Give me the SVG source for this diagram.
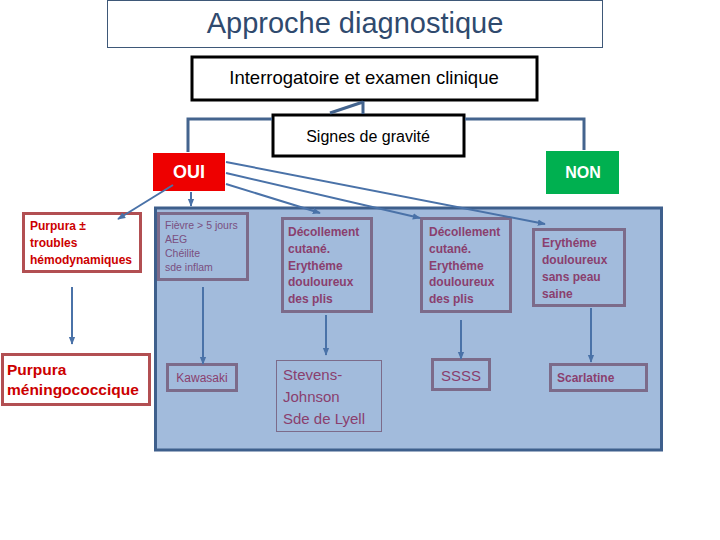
<svg xmlns="http://www.w3.org/2000/svg" width="720" height="540" viewBox="0 0 720 540">
<defs>
<marker id="ah" viewBox="0 0 10 10" refX="9" refY="5" markerWidth="4" markerHeight="4" orient="auto" markerUnits="strokeWidth">
<path d="M0,1 L10,5 L0,9 z" fill="#4a72a8"/>
</marker>
<style>
text{font-family:"Liberation Sans",Arial,sans-serif}
.tree{fill:none;stroke:#44648e;stroke-width:3}
.arr{fill:none;stroke:#4a72a8;stroke-width:2;marker-end:url(#ah)}
.pbox{fill:none;stroke:#7c6b8a;stroke-width:3}
.rbox{fill:#fff;stroke:#b24f52;stroke-width:3}
.pt{fill:#8a3f6e;font-size:12px;font-weight:bold}
.rt{fill:#cc0000;font-weight:bold}
</style>
</defs>
<rect width="720" height="540" fill="#fff"/>
<g id="title">
<rect x="107.5" y="0.5" width="495" height="47" fill="#fff" stroke="#3e5878" stroke-width="1"/>
<text x="355" y="33" font-size="29" fill="#2f4a6e" text-anchor="middle">Approche diagnostique</text>
</g>
<g id="panel">
<rect x="155.5" y="208" width="506" height="242" fill="#a2bbdc" stroke="#3e5f8c" stroke-width="3"/>
</g>
<g id="interrogatoire">
<rect x="192" y="57" width="345" height="43" fill="#fff" stroke="#000" stroke-width="3"/>
<text x="364" y="84" font-size="18.5" fill="#000" text-anchor="middle">Interrogatoire et examen clinique</text>
</g>
<g id="signes">
<rect x="273" y="115" width="191" height="41" fill="#fff" stroke="#000" stroke-width="3"/>
<text x="368" y="142" font-size="16" fill="#000" text-anchor="middle">Signes de gravité</text>
</g>
<g id="oui">
<rect x="153" y="153" width="72" height="38" fill="#ee0000"/>
<text x="189" y="178" font-size="18" font-weight="bold" fill="#fff" text-anchor="middle">OUI</text>
</g>
<g id="non">
<rect x="546" y="151" width="73" height="43" fill="#00b050"/>
<text x="583" y="178" font-size="16" font-weight="bold" fill="#fff" text-anchor="middle">NON</text>
</g>
<g id="purpura-troubles">
<rect class="rbox" x="23.5" y="213.5" width="117" height="58"/>
<text class="rt" font-size="12"><tspan x="30" y="230">Purpura ±</tspan><tspan x="30" y="247">troubles</tspan><tspan x="30" y="264">hémodynamiques</tspan></text>
</g>
<g id="purpura-meningo">
<rect class="rbox" x="2.5" y="354.5" width="147" height="50"/>
<text class="rt" font-size="15.5"><tspan x="7" y="375">Purpura</tspan><tspan x="7" y="395">méningococcique</tspan></text>
</g>
<g id="fievre">
<rect class="pbox" x="158.5" y="213.5" width="89" height="66"/>
<text fill="#7a4f80" font-size="10.5"><tspan x="165" y="229">Fièvre &gt; 5 jours</tspan><tspan x="165" y="243">AEG</tspan><tspan x="165" y="257">Chéilite</tspan><tspan x="165" y="271">sde inflam</tspan></text>
</g>
<g id="kawasaki">
<rect class="pbox" x="167.5" y="364.5" width="69" height="26"/>
<text x="202" y="382" font-size="12" fill="#8a3f6e" text-anchor="middle">Kawasaki</text>
</g>
<g id="decollement1">
<rect class="pbox" x="282.5" y="218.5" width="89" height="93"/>
<text class="pt"><tspan x="288" y="236">Décollement</tspan><tspan x="288" y="253">cutané.</tspan><tspan x="288" y="270">Erythéme</tspan><tspan x="288" y="286">douloureux</tspan><tspan x="288" y="303">des plis</tspan></text>
</g>
<g id="stevens">
<rect x="276.5" y="360.5" width="105" height="71" fill="none" stroke="#7c6b8a" stroke-width="1"/>
<text fill="#8a3f6e" font-size="15"><tspan x="283" y="380">Stevens-</tspan><tspan x="283" y="402">Johnson</tspan><tspan x="283" y="424">Sde de Lyell</tspan></text>
</g>
<g id="decollement2">
<rect class="pbox" x="421.5" y="218.5" width="89" height="93"/>
<text class="pt"><tspan x="429" y="236">Décollement</tspan><tspan x="429" y="253">cutané.</tspan><tspan x="429" y="270">Erythéme</tspan><tspan x="429" y="286">douloureux</tspan><tspan x="429" y="303">des plis</tspan></text>
</g>
<g id="ssss">
<rect class="pbox" x="432.5" y="359.5" width="57" height="30"/>
<text x="441" y="381" font-size="15" fill="#8a3f6e">SSSS</text>
</g>
<g id="erytheme">
<rect class="pbox" x="533.5" y="229.5" width="91" height="76"/>
<text class="pt"><tspan x="542" y="247">Erythéme</tspan><tspan x="542" y="264">douloureux</tspan><tspan x="542" y="281">sans peau</tspan><tspan x="542" y="298">saine</tspan></text>
</g>
<g id="scarlatine">
<rect class="pbox" x="550.5" y="364.5" width="96" height="26"/>
<text x="557" y="382" font-size="12" font-weight="bold" fill="#8a3f6e">Scarlatine</text>
</g>
<g id="connectors">
<path class="tree" d="M363,101 V114 M363,102 L330,113"/>
<path class="tree" d="M272,119 H188 V152"/>
<path class="tree" d="M465,119 H584 V150"/>
<line class="arr" x1="173" y1="185" x2="118" y2="219"/>
<line class="arr" x1="191" y1="192" x2="191" y2="206"/>
<line class="arr" x1="226" y1="184" x2="320" y2="213"/>
<line class="arr" x1="226" y1="173" x2="420" y2="218"/>
<line class="arr" x1="226" y1="162" x2="545" y2="224"/>
<line class="arr" x1="72" y1="287" x2="72" y2="344"/>
<line class="arr" x1="203" y1="287" x2="203" y2="364"/>
<line class="arr" x1="326" y1="315" x2="326" y2="355"/>
<line class="arr" x1="461" y1="320" x2="461" y2="359"/>
<line class="arr" x1="591" y1="308" x2="591" y2="362"/>
</g>
</svg>
